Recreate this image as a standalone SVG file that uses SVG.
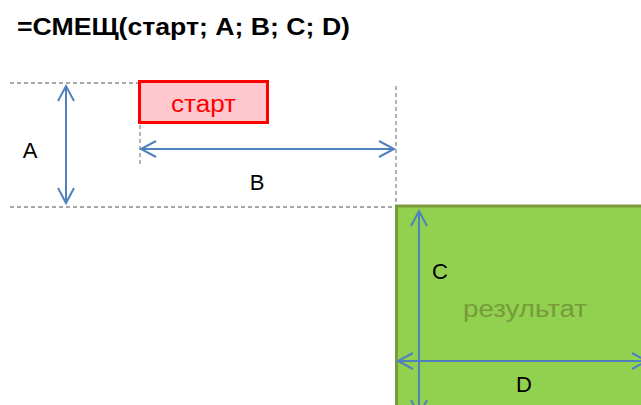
<svg xmlns="http://www.w3.org/2000/svg" width="641" height="405" viewBox="0 0 641 405">
<style>
.dash{stroke:#8c8c8c;stroke-width:1.3;stroke-dasharray:4 3;fill:none}
.arr{stroke:#4F81BD;stroke-width:2;fill:none}
.lbl{font-family:"Liberation Sans",Arial,sans-serif;font-size:22px;fill:#000}
</style>
<rect width="641" height="405" fill="#fff"/>
<text x="17" y="35" font-family="Liberation Sans,Arial,sans-serif" font-weight="bold" font-size="23" textLength="333" lengthAdjust="spacingAndGlyphs">=СМЕЩ(старт; A; B; C; D)</text>
<g id="guides">
<line class="dash" x1="10" y1="83" x2="138" y2="83"/>
<line class="dash" x1="10" y1="207" x2="395" y2="207"/>
<line class="dash" x1="396" y1="86" x2="396" y2="205"/>
<line class="dash" x1="140" y1="125" x2="140" y2="166"/>
</g>
<g id="result">
<rect x="396.5" y="206" width="260" height="220" fill="#92D050" stroke="#7B9A3C" stroke-width="3"/>
<text x="463" y="317" font-family="Liberation Sans,Arial,sans-serif" font-size="23" fill="#779A3A" textLength="124" lengthAdjust="spacingAndGlyphs">результат</text>
</g>
<g id="start">
<rect x="139.5" y="81.5" width="128" height="41" fill="#FFC7CE" stroke="#FF0000" stroke-width="3"/>
<text x="171" y="112" font-family="Liberation Sans,Arial,sans-serif" font-size="23" fill="#FF0000" textLength="65" lengthAdjust="spacingAndGlyphs">старт</text>
</g>
<g id="connectors">
<line class="arr" x1="66" y1="86" x2="66" y2="203"/>
<polyline class="arr" points="58,101 66,86 74,101"/>
<polyline class="arr" points="58,188 66,203 74,188"/>
<line class="arr" x1="141" y1="149" x2="394" y2="149"/>
<polyline class="arr" points="156,141 141,149 156,157"/>
<polyline class="arr" points="379,141 394,149 379,157"/>
<line class="arr" x1="419" y1="211" x2="419" y2="410"/>
<polyline class="arr" points="411,226 419,211 427,226"/>
<polyline class="arr" points="411,400 419,415 427,400"/>
<line class="arr" x1="398" y1="361" x2="650" y2="361"/>
<polyline class="arr" points="413,353 398,361 413,369"/>
<polyline class="arr" points="632,353 647,361 632,369"/>
</g>
<g id="labels">
<text class="lbl" x="30" y="158" text-anchor="middle">A</text>
<text class="lbl" x="257" y="190" text-anchor="middle">B</text>
<text class="lbl" x="440" y="279" text-anchor="middle">C</text>
<text class="lbl" x="524" y="392" text-anchor="middle">D</text>
</g>
</svg>
